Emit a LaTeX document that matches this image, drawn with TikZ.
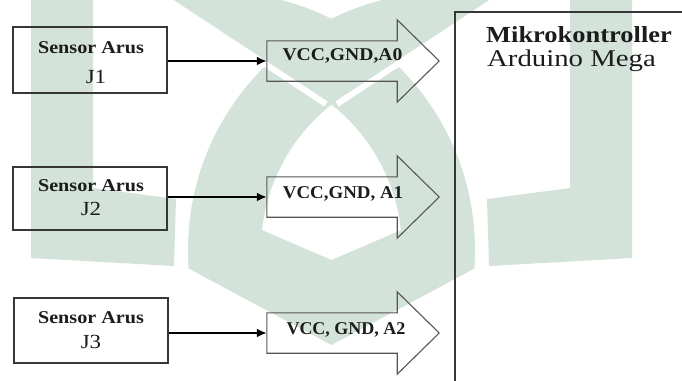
\documentclass[tikz,border=0pt]{standalone}
\usepackage{fontspec}
\setmainfont{Liberation Serif}
\usepackage{graphicx}
\usetikzlibrary{arrows.meta,calc}
\definecolor{wm}{RGB}{212,227,218}
\definecolor{ink}{RGB}{28,28,28}
\definecolor{edge}{RGB}{55,55,55}
\definecolor{blkedge}{RGB}{85,85,85}
\newcommand{\wider}[2]{\scalebox{#1}[1]{#2}}
\begin{document}
\begin{tikzpicture}[x=1pt,y=-1pt,
  sensorbox/.style={draw=edge, line width=1.3pt, minimum width=154pt, inner sep=0pt},
  tailbox/.style={minimum width=130pt, minimum height=40pt, inner sep=0pt},
  blockarrow/.style={draw=blkedge, line width=1.1pt, line join=miter},
  conn/.style={draw=black, line width=2pt, -{Latex[length=10pt,width=9pt]}},
  sensorlbl/.style={font=\fontsize{18}{20}\selectfont\bfseries, text=ink, inner sep=0pt, anchor=base},
  jlbl/.style={font=\fontsize{20}{22}\selectfont, text=ink, inner sep=0pt, anchor=base},
  pinlbl/.style={font=\fontsize{18}{20}\selectfont\bfseries, text=ink, inner sep=0pt, anchor=base},
  mcutitle/.style={font=\fontsize{23}{26}\selectfont\bfseries, text=ink, inner sep=0pt, anchor=base},
  mcusub/.style={font=\fontsize{24}{26}\selectfont, text=ink, inner sep=0pt, anchor=base},
  mculine/.style={draw=edge, line width=1.5pt}]
\useasboundingbox (0,0) rectangle (682,380);
\clip (0,0) rectangle (682,380);

% ---- background emblem ----
\fill[wm] (31,-2) -- (93,-2) -- (93,188) -- (176,199) -- (174,266) -- (31,258) -- cycle;
\fill[wm] (632,-2) -- (570,-2) -- (570,188) -- (487,199) -- (489,266) -- (632,258) -- cycle;
\begin{scope}
  \clip (-10,-100) -- (900,-100) -- (900,500) -- (326,500) -- (326,104) -- (168,0) -- (-10,0) -- cycle;
  \clip (-10,-100) -- (700,-100) -- (700,268) -- (475,268) -- (331.5,345) -- (188,268) -- (-10,268) -- cycle;
  \fill[wm, even odd rule] (217,250) circle[radius=258pt] (217,250) circle[radius=185pt];
\end{scope}
\begin{scope}
  \clip (673,-100) -- (-237,-100) -- (-237,500) -- (337,500) -- (337,104) -- (495,0) -- (673,0) -- cycle;
  \clip (-10,-100) -- (700,-100) -- (700,268) -- (475,268) -- (331.5,345) -- (188,268) -- (-10,268) -- cycle;
  \fill[wm, even odd rule] (446,250) circle[radius=258pt] (446,250) circle[radius=185pt];
\end{scope}
\fill[wm] (188,268) -- (250,225) -- (331.5,260) -- (413,225) -- (475,268) -- (331.5,345) -- cycle;
\draw[white, line width=6pt] (326,104) -- (168,0);
\draw[white, line width=6pt] (337,104) -- (495,0);

% ---- sensor blocks ----
\node[sensorbox, minimum height=66pt] (j1box) at (90,60) {};
\node[sensorbox, minimum height=63pt] (j2box) at (90,198.5) {};
\node[sensorbox, minimum height=65pt] (j3box) at (91,330.5) {};
\node[sensorlbl] (s1) at (91,53.3) {\wider{1.12}{Sensor Arus}};
\node[jlbl] (n1) at (96,83.3) {\wider{1.15}{J1}};
\node[sensorlbl] (s2) at (91,191.7) {\wider{1.12}{Sensor Arus}};
\node[jlbl] (n2) at (91,215) {\wider{1.15}{J2}};
\node[sensorlbl] (s3) at (91,323.3) {\wider{1.12}{Sensor Arus}};
\node[jlbl] (n3) at (91,348.3) {\wider{1.15}{J3}};

% ---- block arrows ----
\foreach \nm/\yy in {a0/61, a1/197, a2/333} {
  \node[tailbox] (\nm) at (332,\yy) {};
  \draw[blockarrow] (\nm.north west) -- (\nm.north east) -- ++(0,-21)
    -- ($(\nm.east)+(42,0)$) -- ($(\nm.south east)+(0,21)$)
    -- (\nm.south east) -- (\nm.south west) -- cycle;
}
\node[pinlbl] (p0) at (342.5,60.7) {\wider{1.09}{VCC,GND,A0}};
\node[pinlbl] (p1) at (343,198) {\wider{1.05}{VCC,GND, A1}};
\node[pinlbl] (p2) at (346,334) {\wider{1.0}{VCC, GND, A2}};

% ---- connectors ----
\draw[conn] (j1box.east |- a0.west) -- (a0.west);
\draw[conn] (j2box.east |- a1.west) -- (a1.west);
\draw[conn] (j3box.east |- a2.west) -- (a2.west);

% ---- microcontroller ----
\coordinate (mcutl) at (455,12);
\coordinate (mcubl) at (455,390);
\coordinate (mcutr) at (690,12);
\draw[mculine] (mcubl) -- (mcutl) -- (mcutr);
\node[mcutitle] (mk) at (579,42) {\wider{1.15}{Mikrokontroller}};
\node[mcusub] (ard) at (571.5,66.7) {\wider{1.2}{Arduino Mega}};
\end{tikzpicture}
\end{document}
